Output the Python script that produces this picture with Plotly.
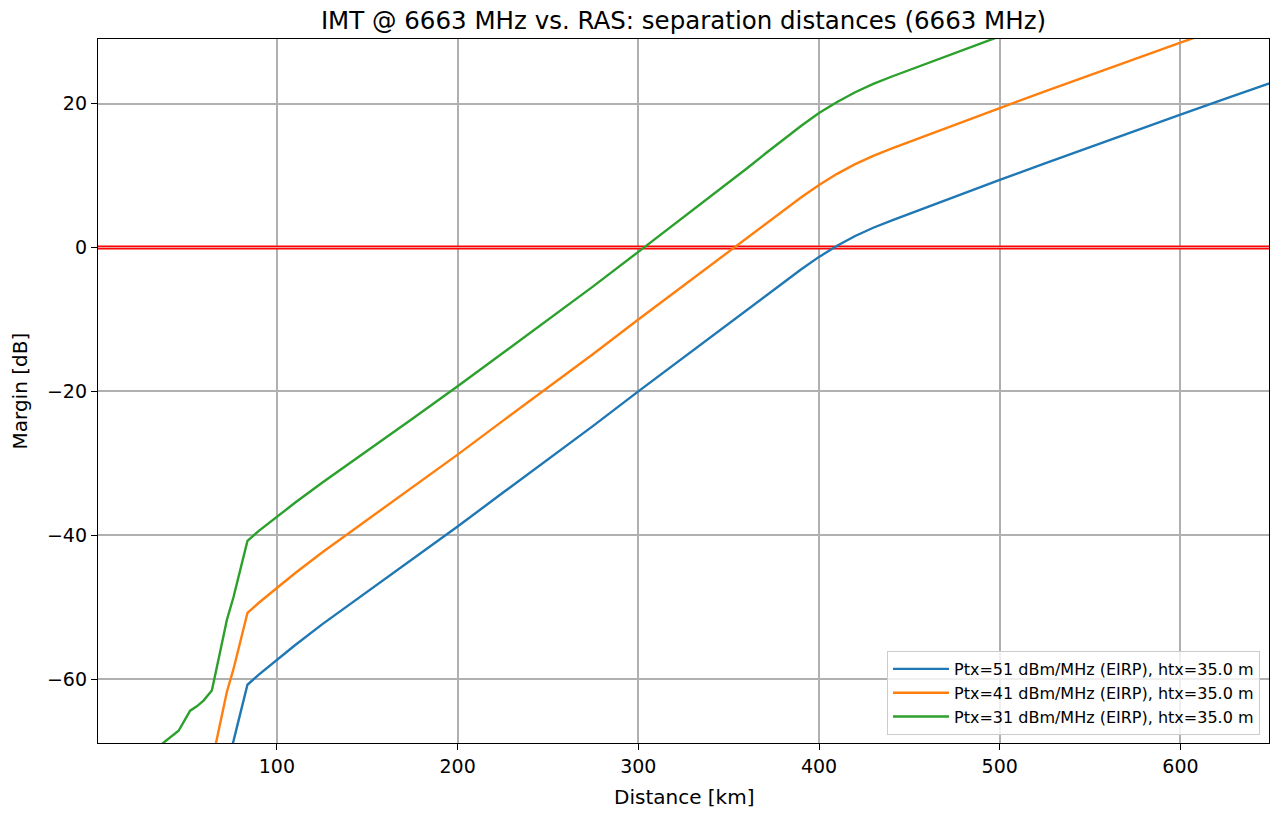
import plotly.graph_objects as go

# Distance grid [km]
distance_km = [30, 36.4, 42, 45.6, 52, 55.7, 59.4, 64, 68, 72.3, 76, 80, 83.7, 90, 100,
               110, 125, 150, 175, 200, 225, 250, 275, 300, 325, 340, 350, 360, 370, 380,
               390, 400, 410, 420, 430, 440, 450, 475, 500, 525, 550, 575, 600, 625,
               650, 660]

# Margin [dB] for each transmit power
margin_ptx51 = [-90.3, -89.0, -87.9, -87.2, -84.4, -83.8, -83.0, -81.6, -76.9, -71.8,
                -68.6, -64.5, -60.8, -59.4, -57.3,
                -55.3, -52.4, -47.9, -43.3, -38.8, -34.1, -29.5, -24.8, -20.0, -15.3, -12.5,
                -10.6, -8.7, -6.8, -4.9, -3.05, -1.3, 0.25, 1.6, 2.75, 3.75, 4.7, 7.05, 9.4,
                11.7, 14.0, 16.2, 18.5, 20.7, 22.9, 23.8]
margin_ptx41 = [-80.3, -79.0, -77.9, -77.2, -74.4, -73.8, -73.0, -71.6, -66.9, -61.8,
                -58.6, -54.5, -50.8, -49.4, -47.3,
                -45.3, -42.4, -37.9, -33.3, -28.8, -24.1, -19.5, -14.8, -10.0, -5.3, -2.5,
                -0.6, 1.3, 3.2, 5.1, 6.95, 8.7, 10.25, 11.6, 12.75, 13.75, 14.7, 17.05, 19.4,
                21.7, 24.0, 26.2, 28.5, 30.7, 32.9, 33.8]
margin_ptx31 = [-70.3, -69.0, -67.9, -67.2, -64.4, -63.8, -63.0, -61.6, -56.9, -51.8,
                -48.6, -44.5, -40.8, -39.4, -37.4,
                -35.5, -32.7, -28.3, -23.8, -19.3, -14.7, -10.1, -5.4, -0.6, 4.2, 7.1,
                9.0, 11.0, 13.0, 15.0, 16.9, 18.7, 20.25, 21.6, 22.75, 23.75, 24.7, 27.05, 29.4,
                31.7, 34.0, 36.2, 38.5, 40.7, 42.9, 43.8]

series_names = ["Ptx=51 dBm/MHz (EIRP), htx=35.0 m",
                "Ptx=41 dBm/MHz (EIRP), htx=35.0 m",
                "Ptx=31 dBm/MHz (EIRP), htx=35.0 m"]
series_colors = ["#1f77b4", "#ff7f0e", "#2ca02c"]

x_ticks = [100, 200, 300, 400, 500, 600]
y_ticks = [-60, -40, -20, 0, 20]
x_range = [1.0, 649]
y_range = [-68.9, 29.0]
threshold = 0

fig = go.Figure()

# threshold line (red with grid line visible through it)
fig.add_trace(go.Scatter(x=x_range, y=[threshold, threshold], mode="lines",
                         line=dict(color="red", width=4), showlegend=False,
                         hoverinfo="skip"))
fig.add_trace(go.Scatter(x=x_range, y=[threshold, threshold], mode="lines",
                         line=dict(color="#e0a8a8", width=1), showlegend=False,
                         hoverinfo="skip"))

for name, vals, col in zip(series_names, [margin_ptx51, margin_ptx41, margin_ptx31], series_colors):
    fig.add_trace(go.Scatter(x=distance_km, y=vals, mode="lines", name=name,
                             line=dict(color=col, width=2.4)))

font_family = "DejaVu Sans"
W, H = 1273, 816
L, R, T, B = 98, 4, 39, 73
fig.update_layout(
    width=W, height=H,
    margin=dict(l=L, r=R, t=T, b=B, autoexpand=False),
    paper_bgcolor="white", plot_bgcolor="white",
    font=dict(family=font_family, size=19, color="black"),
    title=dict(text="IMT @ 6663 MHz vs. RAS: separation distances (6663 MHz)",
               x=0.5, xanchor="center", xref="paper", yref="container",
               y=1 - 20 / H, yanchor="middle",
               font=dict(size=24.5, family=font_family, color="black")),
    legend=dict(x=(1260 - L) / (W - L - R), y=(H - B - 735) / (H - T - B),
                xanchor="right", yanchor="bottom",
                bgcolor="rgba(255,255,255,0.8)", bordercolor="#cccccc", borderwidth=1,
                font=dict(size=16, family=font_family, color="black"),
                tracegroupgap=0, itemwidth=56),
    showlegend=True,
    annotations=[
        dict(text="Distance [km]", x=0.5, xref="paper", xanchor="center",
             y=-(797 - (H - B)) / (H - T - B), yref="paper", yanchor="middle",
             showarrow=False, font=dict(size=20, family=font_family, color="black")),
        dict(text="Margin [dB]", x=-(L - 19.5) / (W - L - R), xref="paper", xanchor="center",
             y=0.5, yref="paper", yanchor="middle", textangle=-90,
             showarrow=False, font=dict(size=20, family=font_family, color="black")),
    ],
)
fig.update_xaxes(range=x_range, tickvals=x_ticks, ticktext=[str(v) for v in x_ticks],
                 showgrid=True, gridcolor="#b0b0b0", gridwidth=1.5,
                 showline=True, linecolor="black", linewidth=1.3, mirror=True,
                 ticks="outside", ticklen=6, tickcolor="black", zeroline=False,
                 automargin=False, tickfont=dict(size=19, color="black"))
fig.update_yaxes(range=y_range, tickvals=y_ticks,
                 showgrid=True, gridcolor="#b0b0b0", gridwidth=1.5,
                 showline=True, linecolor="black", linewidth=1.3, mirror=True,
                 ticks="outside", ticklen=6, tickcolor="black", zeroline=False,
                 automargin=False, tickfont=dict(size=19, color="black"))

fig.write_html("out.html", config={"displayModeBar": False},
               post_script="document.body.style.margin='0px';")
